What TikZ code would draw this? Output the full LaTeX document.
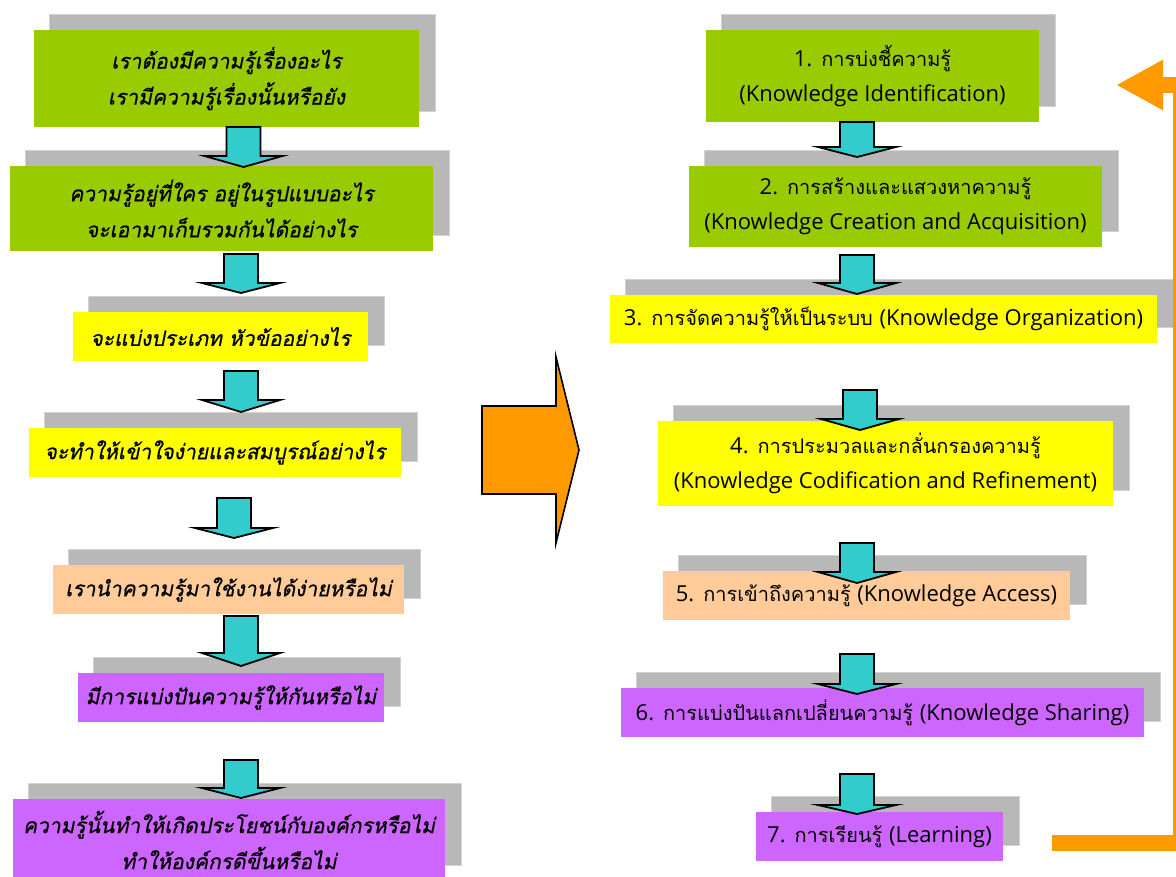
\documentclass[tikz,border=0pt]{standalone}
\usepackage{fontspec}
\usetikzlibrary{arrows.meta}
\newfontfamily\thaifont[Script=Thai]{Loma}
\newfontfamily\thaiit[Script=Thai,FakeSlant=0.2,FakeBold=0.6]{Loma}
\newfontfamily\enfont[Scale=1.1]{Open Sans}
\newcommand\en[1]{{\enfont #1}}
\definecolor{kgreen}{HTML}{99CC00}
\definecolor{kyellow}{HTML}{FFFF00}
\definecolor{kpeach}{HTML}{FFCC99}
\definecolor{kpurple}{HTML}{CC66FF}
\definecolor{kgray}{HTML}{B8B8B8}
\definecolor{kgrayline}{HTML}{D2D2D2}
\definecolor{kcyan}{HTML}{33CCCC}
\definecolor{korange}{HTML}{FF9900}
\tikzset{
  kb/.style={rectangle, inner sep=0pt, align=center, text=black},
  leftbox/.style={kb, font=\thaiit\fontsize{21}{36}\selectfont},
  rightbox/.style={kb, font=\thaifont\fontsize{20}{35}\selectfont},
  shadowbox/.style={fill=kgray, draw=kgrayline, line width=0.8pt},
  cyanarr/.style={fill=kcyan, draw=black, line width=1.8pt, line join=miter},
  bigarr/.style={fill=korange, draw=black, line width=1.6pt, line join=miter},
  looparr/.style={draw=korange, line width=16pt, line join=miter,
     -{Triangle[length=47pt,width=47pt]}}
}
% #1 name, #2 style, #3 color, #4 x1, #5 y1, #6 x2, #7 y2, #8 text
\newcommand\kbox[8]{%
  \fill[shadowbox] ({#4+15},{#5-16}) rectangle ({#6+16},{#7-16});
  \node[#2, fill=#3, minimum width={(#6-#4)*1pt}, minimum height={(#7-#5)*1pt}]
     (#1) at ({(#4+#6)/2},{(#5+#7)/2}) {#8};
}
% #1 cx, #2 top, #3 head base, #4 tip
\newcommand\cyanarrow[4]{%
  \filldraw[cyanarr] ({#1-17},#2) -- ({#1+17},#2) -- ({#1+17},#3) -- ({#1+39},#3)
     -- (#1,#4) -- ({#1-39},#3) -- ({#1-17},#3) -- cycle;
}
\begin{document}
\begin{tikzpicture}[x=1pt,y=-1pt]
\useasboundingbox (0,0) rectangle (1176,877);
\clip (0,0) rectangle (1176,877);
\fill[white] (0,0) rectangle (1176,877);

% left column
\kbox{L1}{leftbox}{kgreen}{34}{30}{419}{127}{เราต้องมีความรู้เรื่องอะไร\\เรามีความรู้เรื่องนั้นหรือยัง}
\kbox{L2}{leftbox}{kgreen}{10}{166}{433}{251}{ความรู้อยู่ที่ใคร อยู่ในรูปแบบอะไร\\จะเอามาเก็บรวมกันได้อย่างไร}
\kbox{L3}{leftbox}{kyellow}{73}{312}{368}{361}{จะแบ่งประเภท หัวข้ออย่างไร}
\kbox{L4}{leftbox}{kyellow}{29}{428}{401}{477}{จะทำให้เข้าใจง่ายและสมบูรณ์อย่างไร}
\kbox{L5}{leftbox}{kpeach}{53}{565}{404}{614}{เรานำความรู้มาใช้งานได้ง่ายหรือไม่}
\kbox{L6}{leftbox}{kpurple}{78}{673}{384}{722}{มีการแบ่งปันความรู้ให้กันหรือไม่}
\kbox{L7}{leftbox}{kpurple}{13}{799}{445}{881}{ความรู้นั้นทำให้เกิดประโยชน์กับองค์กรหรือไม่\\ทำให้องค์กรดีขึ้นหรือไม่}

% right column
\kbox{R1}{rightbox}{kgreen}{706}{30}{1039}{122}{\en{1.} การบ่งชี้ความรู้\\\en{(Knowledge Identification)}}
\kbox{R2}{rightbox}{kgreen}{689}{166}{1102}{247}{\en{2.} การสร้างและแสวงหาความรู้\\\en{(Knowledge Creation and Acquisition)}}
\kbox{R3}{rightbox}{kyellow}{610}{295}{1157}{343}{\en{3.} การจัดความรู้ให้เป็นระบบ \en{(Knowledge Organization)}}
\kbox{R4}{rightbox}{kyellow}{658}{421}{1113}{506}{\en{4.} การประมวลและกลั่นกรองความรู้\\\en{(Knowledge Codification and Refinement)}}
\kbox{R5}{rightbox}{kpeach}{663}{571}{1070}{620}{\en{5.} การเข้าถึงความรู้ \en{(Knowledge Access)}}
\kbox{R6}{rightbox}{kpurple}{621}{688}{1144}{737}{\en{6.} การแบ่งปันแลกเปลี่ยนความรู้ \en{(Knowledge Sharing)}}
\kbox{R7}{rightbox}{kpurple}{756}{812}{1003}{861}{\en{7.} การเรียนรู้ \en{(Learning)}}

% cyan block arrows, left
\cyanarrow{243.5}{127}{156}{167}
\cyanarrow{241}{254}{283}{293}
\cyanarrow{241}{371}{400}{412}
\cyanarrow{234}{498}{528}{538}
\cyanarrow{241}{616}{653}{666}
\cyanarrow{241}{760}{788}{798}

% cyan block arrows, right
\cyanarrow{857}{122}{147}{157}
\cyanarrow{857}{255}{283}{294}
\cyanarrow{860}{390}{419}{430}
\cyanarrow{857}{543}{572}{583}
\cyanarrow{857}{654}{684}{694}
\cyanarrow{857}{774}{805}{814}

% big orange arrow
\filldraw[bigarr] (482,406) -- (556,406) -- (556,357) -- (579,450) -- (556,543)
   -- (556,494) -- (482,494) -- cycle;

% loop back arrow
\coordinate (loopstart) at (1052,843);
\coordinate (looptip) at (1116,85);
\draw[looparr] (loopstart) -- (1181,843) -- (1181,85) -- (looptip);
\end{tikzpicture}
\end{document}
